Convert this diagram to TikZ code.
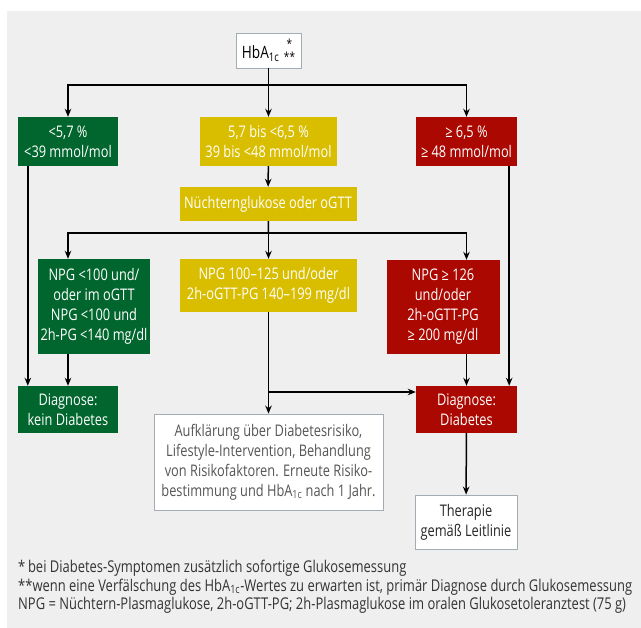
\documentclass[tikz,border=0pt]{standalone}
\usepackage{fontspec}
\setmainfont{Open Sans}[FakeStretch=0.8]
\usetikzlibrary{arrows.meta}
\definecolor{bggray}{HTML}{EFEFEF}
\definecolor{okgreen}{HTML}{00662E}
\definecolor{warnyellow}{HTML}{D9BE00}
\definecolor{alertred}{HTML}{AA0800}
\definecolor{framegray}{HTML}{A3ABB3}
\definecolor{textgray}{HTML}{555555}
\newcommand{\hba}{HbA\textsubscript{1c}}

\begin{document}
\begin{tikzpicture}[x=1pt,y=-1pt,
    font=\fontsize{16}{20}\selectfont,
    >={Stealth[length=8pt,width=6.5pt]},
    every node/.style={inner sep=0pt,align=center},
    green/.style={fill=okgreen,text=white},
    yellow/.style={fill=warnyellow,text=white},
    red/.style={fill=alertred,text=white},
    plain/.style={fill=white,draw=framegray,line width=0.8pt},
    wire/.style={line width=1.5pt}]
  \useasboundingbox (0,0) rectangle (641,628);
  \fill[bggray] (7,11) rectangle (641,628);

  \node[plain,minimum width=65pt,minimum height=35pt] (hba) at (268.5,50.5)
    {{\fontsize{17}{20}\selectfont\hba}\;\raisebox{-2.5pt}{\fontsize{12.5}{6}\selectfont\shortstack{*\\{}*\kern0.3pt*}}};

  \node[green,minimum width=100pt,minimum height=49pt] (lo) at (68,141.5) {<5,7 \%\\<39 mmol/mol};
  \node[yellow,minimum width=137pt,minimum height=49pt] (mid) at (268.5,141.5) {5,7 bis <6,5 \%\\39 bis <48 mmol/mol};
  \node[red,minimum width=101pt,minimum height=49pt] (hi) at (466.5,141.5) {≥ 6,5 \%\\≥ 48 mmol/mol};

  \node[yellow,minimum width=177pt,minimum height=34pt] (ogtt) at (268,204) {Nüchternglukose oder oGTT};

  \node[green,minimum width=112pt,minimum height=95pt] (npglo) at (94,306.5)
    {NPG <100 und/\\oder im oGTT\\NPG <100 und\\2h-PG <140 mg/dl};
  \node[yellow,minimum width=177pt,minimum height=53pt] (npgmid) at (268.5,285.5)
    {NPG 100–125 und/oder\\2h-oGTT-PG 140–199 mg/dl};
  \node[red,minimum width=113pt,minimum height=94pt] (npghi) at (443,307)
    {NPG ≥ 126\\und/oder\\2h-oGTT-PG\\≥ 200 mg/dl};

  \node[green,minimum width=100pt,minimum height=47pt] (nodiab) at (68,409.5) {Diagnose:\\kein Diabetes};
  \node[red,minimum width=101pt,minimum height=47pt] (diab) at (466.5,409.5) {Diagnose:\\Diabetes};

  \node[plain,text=textgray,minimum width=229pt,minimum height=96pt] (advice) at (268.5,462)
    {Aufklärung über Diabetesrisiko,\\Lifestyle-Intervention, Behandlung\\von Risikofaktoren. Erneute Risiko-\\bestimmung und \hba{} nach 1 Jahr.};
  \node[plain,text=black!85,minimum width=102pt,minimum height=54pt] (therapy) at (466,522)
    {Therapie\\gemäß Leitlinie};

  \node[anchor=west,align=left,text=black!80,font=\fontsize{16.2}{18.5}\selectfont] (notes) at (18,587)
    {*\,bei Diabetes-Symptomen zusätzlich sofortige Glukosemessung\\
     **wenn eine Verfälschung des \hba-Wertes zu erwarten ist, primär Diagnose durch Glukosemessung\\
     NPG = Nüchtern-Plasmaglukose, 2h-oGTT-PG; 2h-Plasmaglukose im oralen Glukosetoleranztest (75 g)};

  \coordinate (split1) at (268.5,85);
  \coordinate (split2) at (268.5,233);
  \coordinate (split3) at (268.5,392);

  \draw[wire] (hba) -- (split1);
  \path[wire,->]
    (split1) edge (mid)
    (split1) edge[to path={-| (\tikztotarget)}] (lo)
    (split1) edge[to path={-| (\tikztotarget)}] (hi)
    (mid) edge (ogtt);
  \draw[wire] (ogtt) -- (split2);
  \path[wire,->]
    (split2) edge (npgmid)
    (split2) edge[to path={-| (\tikztotarget)}] (npglo.north -| lo)
    (split2) edge[to path={-| (\tikztotarget)}] (npghi.north -| hi)
    (npglo.south -| nodiab) edge (nodiab)
    ([xshift=10pt]lo.south west) edge ([xshift=10pt]nodiab.north west)
    (npghi.south -| diab) edge (diab)
    ([xshift=-8pt]hi.south east) edge ([xshift=-8pt]diab.north east)
    (npgmid) edge (advice)
    (split3) edge (split3 -| diab.west)
    (diab) edge (therapy);
\end{tikzpicture}
\end{document}
